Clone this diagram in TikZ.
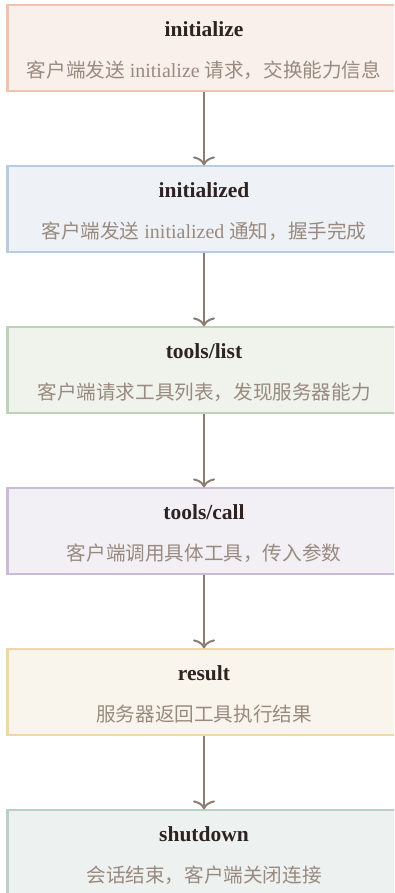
\documentclass[tikz,border=0pt]{standalone}
\usepackage{fontspec}
\setmainfont{Liberation Serif}
\newfontfamily\cjk{Noto Sans CJK SC}
\usetikzlibrary{arrows.meta}

% stage palettes: fill / border
\definecolor{initFill}{HTML}{FAF0EB}\definecolor{initLine}{HTML}{F0C3AF}
\definecolor{doneFill}{HTML}{EEF2F7}\definecolor{doneLine}{HTML}{B7CCE3}
\definecolor{listFill}{HTML}{F0F2EC}\definecolor{listLine}{HTML}{BDD2B6}
\definecolor{callFill}{HTML}{F2EFF5}\definecolor{callLine}{HTML}{CBBBD9}
\definecolor{resFill}{HTML}{F9F5EC}\definecolor{resLine}{HTML}{EFD8A6}
\definecolor{shutFill}{HTML}{EDF1F0}\definecolor{shutLine}{HTML}{BBCFCA}
\definecolor{titleInk}{HTML}{2E2320}
\definecolor{noteInk}{HTML}{998A7F}
\definecolor{flowInk}{HTML}{8C7D72}

\tikzset{
  stagebox/.style 2 args={draw=#2, fill=#1, line width=1.2pt,
    minimum width=392pt, minimum height=86pt, inner sep=0pt},
  stageedge/.style={line width=2.4pt},
  titletext/.style={anchor=base, text=titleInk, inner sep=0pt,
    font=\fontsize{21.5}{24}\selectfont\bfseries},
  notetext/.style={anchor=base, text=noteInk, inner sep=0pt,
    font=\fontsize{20}{22}\selectfont},
  flow/.style={draw=flowInk, line width=2pt,
    -{To[length=9pt, width=22pt, line width=2pt]}},
}

\newcommand{\zh}[1]{{\cjk\fontsize{19.6}{22}\selectfont #1}}

\begin{document}
\begin{tikzpicture}[x=1pt, y=-1pt]
  \clip (0,0) rectangle (394,893);
  \fill[white] (0,0) rectangle (394,893);

  % stage boxes
  \node[stagebox={initFill}{initLine}] (s1) at (204,48) {};
  \node[stagebox={doneFill}{doneLine}] (s2) at (204,209) {};
  \node[stagebox={listFill}{listLine}] (s3) at (204,370) {};
  \node[stagebox={callFill}{callLine}] (s4) at (204,531) {};
  \node[stagebox={resFill}{resLine}]   (s5) at (204,692) {};
  \node[stagebox={shutFill}{shutLine}] (s6) at (204,853) {};

  % heavier left edges
  \draw[stageedge, initLine] (s1.north west) -- (s1.south west);
  \draw[stageedge, doneLine] (s2.north west) -- (s2.south west);
  \draw[stageedge, listLine] (s3.north west) -- (s3.south west);
  \draw[stageedge, callLine] (s4.north west) -- (s4.south west);
  \draw[stageedge, resLine]  (s5.north west) -- (s5.south west);
  \draw[stageedge, shutLine] (s6.north west) -- (s6.south west);

  % titles
  \node[titletext] (t1) at ([yshift=-32pt]s1.north) {initialize};
  \node[titletext] (t2) at ([yshift=-32pt]s2.north) {initialized};
  \node[titletext] (t3) at ([yshift=-32pt]s3.north) {tools/list};
  \node[titletext] (t4) at ([yshift=-32pt]s4.north) {tools/call};
  \node[titletext] (t5) at ([yshift=-32pt]s5.north) {result};
  \node[titletext] (t6) at ([yshift=-32pt]s6.north) {shutdown};

  % descriptions
  \node[notetext] (n1) at ([yshift=-73pt]s1.north) {\zh{客户端发送} initialize \zh{请求，交换能力信息}};
  \node[notetext] (n2) at ([yshift=-73pt]s2.north) {\zh{客户端发送} initialized \zh{通知，握手完成}};
  \node[notetext] (n3) at ([yshift=-73pt]s3.north) {\zh{客户端请求工具列表，发现服务器能力}};
  \node[notetext] (n4) at ([yshift=-73pt]s4.north) {\zh{客户端调用具体工具，传入参数}};
  \node[notetext] (n5) at ([yshift=-73pt]s5.north) {\zh{服务器返回工具执行结果}};
  \node[notetext] (n6) at ([yshift=-73pt]s6.north) {\zh{会话结束，客户端关闭连接}};

  % flow
  \draw[flow] (s1.south) -- (s2.north);
  \draw[flow] (s2.south) -- (s3.north);
  \draw[flow] (s3.south) -- (s4.north);
  \draw[flow] (s4.south) -- (s5.north);
  \draw[flow] (s5.south) -- (s6.north);
\end{tikzpicture}
\end{document}
